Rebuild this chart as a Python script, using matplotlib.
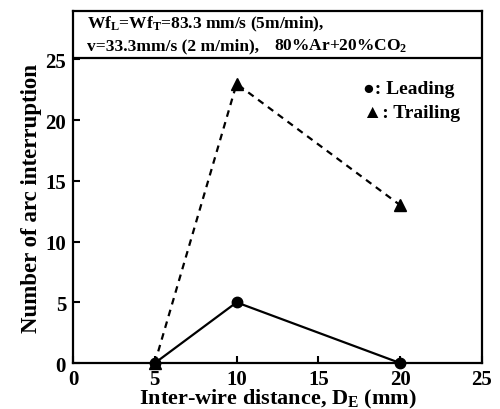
import matplotlib
matplotlib.use('Agg')
import matplotlib.pyplot as plt

# data
distance = [5, 10, 20]
leading = [0, 5, 0]
trailing = [0, 23, 13]
xticks = [0, 5, 10, 15, 20, 25]
yticks = [0, 5, 10, 15, 20, 25]

plt.rcParams['font.family'] = ['Liberation Serif', 'DejaVu Sans']
plt.rcParams['font.weight'] = 'bold'
plt.rcParams['mathtext.fontset'] = 'custom'
plt.rcParams['mathtext.rm'] = 'Liberation Serif:bold'
plt.rcParams['mathtext.it'] = 'Liberation Serif:bold'

fig = plt.figure(figsize=(5, 4.1), dpi=100)
ax = fig.add_axes([0.146, 0.112, 0.818, 0.859])

ax.plot(distance, trailing, color='black', linestyle=(0, (3, 2.5)), linewidth=1.6,
        marker='^', markersize=8, clip_on=False)
ax.plot(distance, leading, color='black', linestyle='-', linewidth=1.6,
        marker='o', markersize=7.5, clip_on=False)

ax.set_xlim(0, 25)
ax.set_ylim(0, 29)
ax.set_xticks(xticks)
ax.set_yticks(yticks)
ax.tick_params(direction='in', length=5, width=1.5, labelsize=15)
ax.tick_params(axis='x', pad=4)
ax.tick_params(axis='y', pad=5)
for lab in ax.get_xticklabels() + ax.get_yticklabels():
    lab.set_fontweight('bold')
for sp in ax.spines.values():
    sp.set_linewidth(1.6)

ax.set_xlabel('Inter-wire distance, D$_\\mathregular{E}$ (mm)', fontsize=16,
              fontweight='bold', labelpad=-1)
ax.set_ylabel('Number of arc interruption', fontsize=16.5, fontweight='bold')
ax.yaxis.set_label_coords(-0.077, 0.47)

# condition box at top
ax.axhline(25.1, color='black', linewidth=1.6)
ax.text(0.85, 28.75, 'Wf$_\\mathregular{L}$=Wf$_\\mathregular{T}$=83.3 mm/s (5m/min),',
        fontsize=12.5, fontweight='bold', va='top', ha='left')
ax.text(0.85, 26.85, 'v=33.3mm/s (2 m/min),', fontsize=12.5, fontweight='bold',
        va='top', ha='left')
ax.text(12.3, 26.85, '80%Ar+20%CO$_\\mathregular{2}$', fontsize=12.5, fontweight='bold',
        va='top', ha='left')

# legend as text
ax.text(17.7, 22.6, '\u25cf: Leading', fontsize=14, fontweight='bold', va='center')
ax.text(17.7, 20.6, '\u25b2: Trailing', fontsize=14, fontweight='bold', va='center')

fig.savefig('out.png', dpi=100)
